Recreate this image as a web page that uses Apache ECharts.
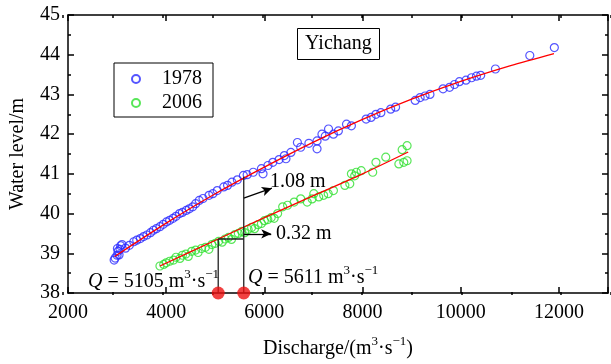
<!DOCTYPE html>
<html><head><meta charset="utf-8">
<script src="https://cdn.jsdelivr.net/npm/echarts@6/dist/echarts.min.js"></script>
<style>html,body{margin:0;padding:0;background:#fff}#c{width:611px;height:364px}</style>
</head><body><div id="c"></div>
<script>
// ---- data ----
const seriesNames = ['1978', '2006'];
const obs1978 = [[2940,38.83],[2960,38.88],[3000,38.95],[3020,39.05],[3040,38.96],[3007,39.12],[3073,39.19],[3100,39.22],[3060,39.1],[3173,39.13],[3250,39.2],[3340,39.29],[3400,39.33],[3473,39.37],[3540,39.42],[3607,39.46],[3680,39.52],[3740,39.58],[3800,39.62],[3873,39.67],[3940,39.73],[4007,39.79],[4070,39.83],[4140,39.88],[4200,39.93],[4273,40.0],[4330,40.03],[4407,40.08],[4470,40.12],[4540,40.17],[4600,40.25],[4673,40.33],[4750,40.38],[4873,40.46],[4950,40.5],[5040,40.58],[5173,40.67],[5250,40.71],[5340,40.79],[5450,40.85],[5573,40.96],[5650,40.98],[5773,41.04],[5940,41.13],[5973,41.0],[6073,41.21],[6173,41.29],[6300,41.36],[6407,41.46],[6440,41.38],[6540,41.54],[6673,41.79],[6740,41.67],[6907,41.77],[7073,41.63],[7073,41.83],[7173,42.0],[7240,41.95],[7307,42.13],[7407,42.0],[7507,42.08],[7673,42.25],[7773,42.21],[8073,42.38],[8173,42.42],[8273,42.5],[8373,42.54],[8573,42.63],[8673,42.68],[9073,42.85],[9173,42.92],[9273,42.96],[9373,43.0],[9640,43.14],[9773,43.18],[9873,43.25],[9973,43.32],[10107,43.36],[10220,43.42],[10320,43.46],[10407,43.48],[10707,43.64],[11407,43.98],[11907,44.18]];
const obs2006 = [[3873,38.68],[3950,38.72],[4000,38.76],[4070,38.8],[4150,38.83],[4200,38.9],[4280,38.87],[4330,38.95],[4400,38.98],[4450,38.92],[4520,39.05],[4600,39.08],[4650,39.02],[4720,39.12],[4800,39.15],[4870,39.1],[4930,39.22],[5000,39.25],[5070,39.3],[5140,39.28],[5200,39.36],[5270,39.4],[5330,39.35],[5400,39.47],[5470,39.5],[5540,39.55],[5600,39.52],[5670,39.6],[5740,39.65],[5800,39.62],[5870,39.72],[5940,39.75],[6000,39.82],[6070,39.85],[6140,39.9],[6200,39.88],[6270,40.0],[6373,40.17],[6473,40.21],[6607,40.29],[6740,40.37],[6873,40.29],[6973,40.37],[7007,40.5],[7107,40.42],[7207,40.46],[7300,40.5],[7407,40.58],[7640,40.71],[7740,40.75],[7773,41.0],[7840,40.95],[7873,41.04],[7973,41.08],[8207,41.04],[8273,41.29],[8473,41.42],[8740,41.25],[8807,41.61],[8840,41.29],[8907,41.33],[8907,41.71]];
const fit1978 = [[2950,38.92],[4000,39.76],[5000,40.5],[6000,41.17],[7000,41.8],[8000,42.37],[9000,42.88],[10000,43.33],[11000,43.72],[11900,44.03]];
const fit2006 = [[3873,38.68],[5060,39.36],[6000,39.9],[7000,40.45],[8000,41.0],[8930,41.55]];
const markQ = [5060, 5580];            // drawn positions of Q = 5105 and Q = 5611
const vLineA = [[5060,38],[5060,39.36]];
const vLineB = [[5580,38],[5580,40.93]];
const hLine = [[5060,39.36],[5580,39.36]];
const arrowA = [[5580,40.39],[6154,40.64]];
const arrowB = [[5580,39.49],[6140,39.49]];
const xMajor = [2000,4000,6000,8000,10000,12000];
const yMajor = [38,39,40,41,42,43,44,45];

// ---- chart ----
const FONT = 'Liberation Serif';
const chart = echarts.init(document.getElementById('c'), null, {renderer:'canvas'});
const blk = '#000';
const axLine = {show:true, onZero:false, lineStyle:{color:blk, width:1.5}};
function xAx(grid, pos, interval, len, labels, withLine, extra) {
  return Object.assign({
    type:'value', gridIndex:grid, position:pos, min:2000, max:13000, interval:interval,
    axisLine: withLine ? axLine : {show:false},
    axisTick:{show:true, inside:true, length:len, lineStyle:{color:blk, width:1.5}},
    axisLabel:{show:labels, fontFamily:FONT, fontSize:20, color:blk, margin:10,
      formatter: v => (xMajor.indexOf(v) >= 0 ? String(v) : '')},
    splitLine:{show:false}
  }, extra || {});
}
function yAx(grid, pos, labels, show, extra) {
  return Object.assign({
    type:'value', gridIndex:grid, position:pos, min:38, max:45, interval:1, show:show,
    axisLine: axLine,
    axisTick:{show:true, inside:true, length:6, lineStyle:{color:blk, width:1.5}},
    minorTick:{show:true, splitNumber:2, length:3, lineStyle:{color:blk, width:1.5}},
    axisLabel:{show:labels, fontFamily:FONT, fontSize:20, color:blk, margin:8,
      formatter: v => (yMajor.indexOf(v) >= 0 ? String(v) : '')},
    splitLine:{show:false}
  }, extra || {});
}
const gridRect = {left:63, top:15, width:550, height:280};
const qRich = {
  q:{fontFamily:FONT, fontStyle:'italic', fontSize:20, fill:blk, verticalAlign:'bottom', lineHeight:24},
  n:{fontFamily:FONT, fontSize:20, fill:blk, verticalAlign:'bottom', lineHeight:24},
  s:{fontFamily:FONT, fontSize:13, fill:blk, verticalAlign:'top', lineHeight:24}
};

chart.setOption({
  animation:false,
  backgroundColor:'#fff',
  title:{text:'Yichang', left:297, top:28, borderColor:blk, borderWidth:1, padding:[6,8,6,8],
    textStyle:{fontFamily:FONT, fontSize:20, fontWeight:'normal', color:blk}},
  legend:{data:seriesNames, orient:'vertical', left:114, top:63, borderColor:blk, borderWidth:1,
    padding:[6,11,4,17], itemGap:4, itemWidth:8, itemHeight:8,
    formatter: name => '{g|}{t|' + name + '}',
    textStyle:{fontFamily:FONT, fontSize:20, color:blk,
      rich:{g:{width:17, height:20}, t:{fontFamily:FONT, fontSize:20, color:blk}}}},
  grid:[Object.assign({}, gridRect), Object.assign({}, gridRect)],
  xAxis:[
    xAx(0,'bottom',2000,6,true,true,{name:'{n|Discharge/(m}{s|3}{n|·s}{s|−1}{n|)}', nameLocation:'middle', nameGap:42,
      nameTextStyle:{rich:{n:{fontFamily:FONT, fontSize:20, color:blk, verticalAlign:'bottom', lineHeight:24}, s:{fontFamily:FONT, fontSize:13, color:blk, verticalAlign:'top', lineHeight:24}}}}),
    xAx(0,'top',2000,6,false,true),
    xAx(1,'bottom',1000,3,false,false),
    xAx(1,'top',1000,3,false,false)
  ],
  yAxis:[
    yAx(0,'left',true,true,{name:'Water level/m', nameLocation:'middle', nameGap:40, nameRotate:90,
      nameTextStyle:{fontFamily:FONT, fontSize:20, color:blk}}),
    yAx(0,'right',false,true),
    {type:'value', gridIndex:1, min:38, max:45, show:false}
  ],
  series:[
    {name:'1978', type:'scatter', data:obs1978, symbol:'circle', symbolSize:8, z:3,
      itemStyle:{color:'rgba(255,255,255,0)', borderColor:'#2a2aff', borderWidth:1.2}},
    {name:'2006', type:'scatter', data:obs2006, symbol:'circle', symbolSize:8, z:3,
      itemStyle:{color:'rgba(255,255,255,0)', borderColor:'#2ee02e', borderWidth:1.2}},
    {type:'line', data:fit1978, smooth:0.3, showSymbol:false, symbol:'none', z:4,
      lineStyle:{color:'#ff0000', width:1.3}},
    {type:'line', data:fit2006, smooth:0.3, showSymbol:false, symbol:'none', z:4,
      lineStyle:{color:'#ff0000', width:1.3}},
    {type:'line', data:vLineA, symbol:'none', z:5, lineStyle:{color:'#222', width:1.3}},
    {type:'line', data:vLineB, symbol:'none', z:5, lineStyle:{color:'#222', width:1.3}},
    {type:'line', data:hLine, symbol:'none', z:5, lineStyle:{color:'#222', width:1.3},
      markLine:{silent:true, symbol:['none','arrow'], symbolSize:[7,10], label:{show:false},
        lineStyle:{color:'#000', width:1.3, type:'solid'},
        data:[
          [{coord:arrowA[0]},{coord:arrowA[1]}],
          [{coord:arrowB[0]},{coord:arrowB[1]}]
        ]}},
    {type:'scatter', data:markQ.map(q => [q, 38]), symbol:'circle', symbolSize:13, z:10, clip:false,
      itemStyle:{color:'#ee1111'}}
  ],
  graphic:[
    {type:'text', left:270, top:172, z:20, style:{text:'1.08 m', font:'20px "Liberation Serif"', fill:blk}},
    {type:'text', left:276, top:224, z:20, style:{text:'0.32 m', font:'20px "Liberation Serif"', fill:blk}},
    {type:'text', left:88, top:268, z:20, style:{text:'{q|Q}{n| = 5105 m}{s|3}{n|·s}{s|−1}', rich:qRich}},
    {type:'text', left:248, top:264, z:20, style:{text:'{q|Q}{n| = 5611 m}{s|3}{n|·s}{s|−1}', rich:qRich}}
  ]
});
</script></body></html>
